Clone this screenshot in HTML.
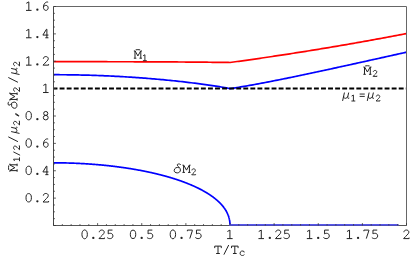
<!DOCTYPE html>
<html><head><meta charset="utf-8"><style>
html,body{margin:0;padding:0;background:#fff;font-family:"Liberation Sans",sans-serif;}
svg{display:block}
text{font-family:"Liberation Mono",monospace;font-size:14.2px;fill:#000;fill-opacity:0;stroke:none;}
</style></head><body>
<svg width="415" height="257" viewBox="0 0 415 257">
<rect width="415" height="257" fill="#fff"/>
<path d="M53.50,61.70 L55.27,61.70 L57.03,61.70 L58.80,61.70 L60.56,61.70 L62.33,61.70 L64.09,61.70 L65.86,61.70 L67.62,61.70 L69.39,61.70 L71.15,61.70 L72.91,61.70 L74.68,61.70 L76.44,61.70 L78.21,61.70 L79.97,61.70 L81.74,61.70 L83.50,61.71 L85.27,61.71 L87.03,61.71 L88.80,61.71 L90.56,61.71 L92.33,61.71 L94.09,61.71 L95.86,61.71 L97.62,61.71 L99.39,61.72 L101.16,61.72 L102.92,61.72 L104.69,61.72 L106.45,61.72 L108.22,61.73 L109.98,61.73 L111.75,61.73 L113.51,61.73 L115.28,61.74 L117.04,61.74 L118.80,61.74 L120.57,61.75 L122.34,61.75 L124.10,61.75 L125.86,61.76 L127.63,61.76 L129.39,61.76 L131.16,61.77 L132.93,61.77 L134.69,61.78 L136.45,61.78 L138.22,61.79 L139.99,61.80 L141.75,61.80 L143.51,61.81 L145.28,61.81 L147.05,61.82 L148.81,61.83 L150.57,61.83 L152.34,61.84 L154.10,61.85 L155.87,61.86 L157.63,61.86 L159.40,61.87 L161.16,61.88 L162.93,61.89 L164.69,61.90 L166.46,61.91 L168.23,61.92 L169.99,61.93 L171.75,61.94 L173.52,61.95 L175.28,61.96 L177.05,61.97 L178.81,61.99 L180.58,62.00 L182.34,62.01 L184.11,62.02 L185.88,62.04 L187.64,62.05 L189.41,62.06 L191.17,62.08 L192.94,62.09 L194.70,62.11 L196.47,62.12 L198.23,62.14 L200.00,62.16 L201.76,62.17 L203.53,62.19 L205.29,62.21 L207.06,62.22 L208.82,62.24 L210.59,62.26 L212.35,62.28 L214.12,62.30 L215.88,62.32 L217.65,62.34 L219.41,62.36 L221.17,62.38 L222.94,62.40 L224.70,62.43 L226.47,62.45 L228.23,62.47 L230.00,62.50 L231.77,62.26 L233.53,62.02 L235.30,61.77 L237.06,61.53 L238.83,61.29 L240.59,61.04 L242.36,60.80 L244.12,60.55 L245.89,60.30 L247.65,60.05 L249.42,59.80 L251.18,59.55 L252.94,59.30 L254.71,59.05 L256.48,58.80 L258.24,58.54 L260.00,58.29 L261.77,58.03 L263.53,57.77 L265.30,57.51 L267.06,57.25 L268.83,56.99 L270.60,56.73 L272.36,56.47 L274.12,56.21 L275.89,55.94 L277.65,55.68 L279.42,55.41 L281.19,55.14 L282.95,54.87 L284.72,54.60 L286.48,54.33 L288.25,54.06 L290.01,53.79 L291.77,53.51 L293.54,53.24 L295.31,52.96 L297.07,52.69 L298.83,52.41 L300.60,52.13 L302.37,51.85 L304.13,51.57 L305.89,51.29 L307.66,51.01 L309.42,50.72 L311.19,50.44 L312.95,50.15 L314.72,49.87 L316.49,49.58 L318.25,49.29 L320.01,49.00 L321.78,48.71 L323.55,48.42 L325.31,48.13 L327.07,47.83 L328.84,47.54 L330.61,47.24 L332.37,46.95 L334.13,46.65 L335.90,46.35 L337.67,46.05 L339.43,45.75 L341.19,45.45 L342.96,45.15 L344.72,44.84 L346.49,44.54 L348.25,44.23 L350.02,43.93 L351.78,43.62 L353.55,43.31 L355.31,43.00 L357.08,42.69 L358.84,42.38 L360.61,42.06 L362.38,41.75 L364.14,41.44 L365.91,41.12 L367.67,40.80 L369.44,40.49 L371.20,40.17 L372.97,39.85 L374.73,39.53 L376.50,39.21 L378.26,38.88 L380.03,38.56 L381.79,38.24 L383.56,37.91 L385.32,37.58 L387.08,37.26 L388.85,36.93 L390.62,36.60 L392.38,36.27 L394.14,35.94 L395.91,35.60 L397.68,35.27 L399.44,34.94 L401.20,34.60 L402.97,34.26 L404.74,33.93 L406.50,33.59" fill="none" stroke="#f00" stroke-width="1.7" stroke-linejoin="round"/>
<path d="M53.50,74.70 L55.27,74.71 L57.03,74.71 L58.80,74.72 L60.56,74.73 L62.33,74.74 L64.09,74.75 L65.86,74.77 L67.62,74.79 L69.39,74.81 L71.15,74.83 L72.91,74.86 L74.68,74.89 L76.44,74.92 L78.21,74.96 L79.97,74.99 L81.74,75.03 L83.50,75.08 L85.27,75.12 L87.03,75.17 L88.80,75.22 L90.56,75.27 L92.33,75.33 L94.09,75.38 L95.86,75.44 L97.62,75.51 L99.39,75.57 L101.16,75.64 L102.92,75.71 L104.69,75.79 L106.45,75.86 L108.22,75.94 L109.98,76.02 L111.75,76.11 L113.51,76.19 L115.28,76.28 L117.04,76.37 L118.80,76.47 L120.57,76.57 L122.34,76.67 L124.10,76.77 L125.86,76.87 L127.63,76.98 L129.39,77.09 L131.16,77.20 L132.93,77.32 L134.69,77.44 L136.45,77.56 L138.22,77.69 L139.99,77.81 L141.75,77.94 L143.51,78.07 L145.28,78.21 L147.05,78.35 L148.81,78.49 L150.57,78.63 L152.34,78.78 L154.10,78.93 L155.87,79.08 L157.63,79.23 L159.40,79.39 L161.16,79.55 L162.93,79.72 L164.69,79.88 L166.46,80.05 L168.23,80.23 L169.99,80.40 L171.75,80.58 L173.52,80.76 L175.28,80.95 L177.05,81.13 L178.81,81.32 L180.58,81.52 L182.34,81.71 L184.11,81.91 L185.88,82.12 L187.64,82.33 L189.41,82.54 L191.17,82.75 L192.94,82.97 L194.70,83.19 L196.47,83.41 L198.23,83.64 L200.00,83.87 L201.76,84.11 L203.53,84.34 L205.29,84.59 L207.06,84.84 L208.82,85.09 L210.59,85.34 L212.35,85.60 L214.12,85.87 L215.88,86.14 L217.65,86.42 L219.41,86.70 L221.17,86.99 L222.94,87.29 L224.70,87.59 L226.47,87.91 L228.23,88.25 L230.00,88.62 L231.77,88.36 L233.53,88.09 L235.30,87.81 L237.06,87.53 L238.83,87.24 L240.59,86.95 L242.36,86.66 L244.12,86.36 L245.89,86.06 L247.65,85.75 L249.42,85.44 L251.18,85.13 L252.94,84.81 L254.71,84.49 L256.48,84.17 L258.24,83.84 L260.00,83.51 L261.77,83.18 L263.53,82.85 L265.30,82.51 L267.06,82.17 L268.83,81.83 L270.60,81.48 L272.36,81.14 L274.12,80.79 L275.89,80.44 L277.65,80.09 L279.42,79.74 L281.19,79.38 L282.95,79.02 L284.72,78.67 L286.48,78.31 L288.25,77.94 L290.01,77.58 L291.77,77.22 L293.54,76.85 L295.31,76.48 L297.07,76.12 L298.83,75.75 L300.60,75.38 L302.37,75.01 L304.13,74.63 L305.89,74.26 L307.66,73.89 L309.42,73.51 L311.19,73.14 L312.95,72.76 L314.72,72.38 L316.49,72.01 L318.25,71.63 L320.01,71.25 L321.78,70.87 L323.55,70.49 L325.31,70.11 L327.07,69.72 L328.84,69.34 L330.61,68.96 L332.37,68.57 L334.13,68.19 L335.90,67.81 L337.67,67.42 L339.43,67.04 L341.19,66.65 L342.96,66.26 L344.72,65.88 L346.49,65.49 L348.25,65.10 L350.02,64.72 L351.78,64.33 L353.55,63.94 L355.31,63.55 L357.08,63.16 L358.84,62.77 L360.61,62.38 L362.38,61.99 L364.14,61.60 L365.91,61.21 L367.67,60.82 L369.44,60.43 L371.20,60.04 L372.97,59.65 L374.73,59.26 L376.50,58.87 L378.26,58.48 L380.03,58.09 L381.79,57.69 L383.56,57.30 L385.32,56.91 L387.08,56.52 L388.85,56.12 L390.62,55.73 L392.38,55.34 L394.14,54.95 L395.91,54.55 L397.68,54.16 L399.44,53.77 L401.20,53.37 L402.97,52.98 L404.74,52.59 L406.50,52.19" fill="none" stroke="#00f" stroke-width="1.7" stroke-linejoin="round"/>
<path d="M53.50,162.81 L54.09,162.81 L54.67,162.81 L55.26,162.81 L55.85,162.82 L56.43,162.82 L57.01,162.82 L57.59,162.83 L58.18,162.83 L58.76,162.84 L59.33,162.84 L59.91,162.85 L60.49,162.86 L61.07,162.86 L61.64,162.87 L62.21,162.88 L62.79,162.89 L63.36,162.90 L63.93,162.91 L64.50,162.92 L65.07,162.94 L65.64,162.95 L66.21,162.96 L66.77,162.98 L67.34,162.99 L67.90,163.01 L68.47,163.02 L69.03,163.04 L69.59,163.05 L70.15,163.07 L70.71,163.09 L71.27,163.11 L71.82,163.13 L72.38,163.15 L72.94,163.17 L73.49,163.19 L74.04,163.21 L74.60,163.23 L75.15,163.25 L75.70,163.27 L76.25,163.30 L76.80,163.32 L77.35,163.35 L77.89,163.37 L78.44,163.40 L78.98,163.42 L79.53,163.45 L80.07,163.48 L80.61,163.50 L81.15,163.53 L81.69,163.56 L82.23,163.59 L82.77,163.62 L83.30,163.65 L83.84,163.68 L84.38,163.71 L84.91,163.74 L85.44,163.77 L85.97,163.81 L86.51,163.84 L87.03,163.87 L87.56,163.91 L88.09,163.94 L88.62,163.98 L89.15,164.01 L89.67,164.05 L90.19,164.09 L90.72,164.12 L91.24,164.16 L91.76,164.20 L92.28,164.24 L92.80,164.28 L93.32,164.32 L93.84,164.36 L94.35,164.40 L94.87,164.44 L95.38,164.48 L95.89,164.52 L96.41,164.56 L96.92,164.60 L97.43,164.65 L97.94,164.69 L98.45,164.74 L98.95,164.78 L99.46,164.83 L99.97,164.87 L100.47,164.92 L100.97,164.96 L101.48,165.01 L101.98,165.06 L102.48,165.10 L102.98,165.15 L103.48,165.20 L103.97,165.25 L104.47,165.30 L104.97,165.35 L105.46,165.40 L105.96,165.45 L106.45,165.50 L106.94,165.55 L107.43,165.60 L107.92,165.66 L108.41,165.71 L108.90,165.76 L109.38,165.82 L109.87,165.87 L110.35,165.92 L110.84,165.98 L111.32,166.03 L111.80,166.09 L112.28,166.15 L112.76,166.20 L113.24,166.26 L113.72,166.32 L114.20,166.37 L114.67,166.43 L115.15,166.49 L115.62,166.55 L116.10,166.61 L116.57,166.67 L117.04,166.73 L117.51,166.79 L117.98,166.85 L118.45,166.91 L118.91,166.97 L119.38,167.04 L119.85,167.10 L120.31,167.16 L120.77,167.22 L121.24,167.29 L121.70,167.35 L122.16,167.42 L122.62,167.48 L123.08,167.55 L123.53,167.61 L123.99,167.68 L124.45,167.74 L124.90,167.81 L125.35,167.88 L125.81,167.94 L126.26,168.01 L126.71,168.08 L127.16,168.15 L127.61,168.22 L128.05,168.29 L128.50,168.36 L128.95,168.43 L129.39,168.50 L129.83,168.57 L130.28,168.64 L130.72,168.71 L131.16,168.78 L131.60,168.85 L132.04,168.92 L132.48,169.00 L132.91,169.07 L133.35,169.14 L133.78,169.22 L134.22,169.29 L134.65,169.37 L135.08,169.44 L135.51,169.52 L135.94,169.59 L136.37,169.67 L136.80,169.74 L137.23,169.82 L137.65,169.90 L138.08,169.97 L138.50,170.05 L138.93,170.13 L139.35,170.21 L139.77,170.28 L140.19,170.36 L140.61,170.44 L141.03,170.52 L141.44,170.60 L141.86,170.68 L142.28,170.76 L142.69,170.84 L143.10,170.92 L143.51,171.01 L143.93,171.09 L144.34,171.17 L144.75,171.25 L145.15,171.33 L145.56,171.42 L145.97,171.50 L146.37,171.58 L146.78,171.67 L147.18,171.75 L147.58,171.84 L147.99,171.92 L148.39,172.01 L148.79,172.09 L149.18,172.18 L149.58,172.26 L149.98,172.35 L150.37,172.44 L150.77,172.52 L151.16,172.61 L151.56,172.70 L151.95,172.79 L152.34,172.87 L152.73,172.96 L153.12,173.05 L153.50,173.14 L153.89,173.23 L154.28,173.32 L154.66,173.41 L155.05,173.50 L155.43,173.59 L155.81,173.68 L156.19,173.77 L156.57,173.86 L156.95,173.95 L157.33,174.05 L157.71,174.14 L158.08,174.23 L158.46,174.32 L158.83,174.42 L159.20,174.51 L159.58,174.60 L159.95,174.70 L160.32,174.79 L160.69,174.89 L161.05,174.98 L161.42,175.08 L161.79,175.17 L162.15,175.27 L162.52,175.36 L162.88,175.46 L163.24,175.56 L163.60,175.65 L163.96,175.75 L164.32,175.85 L164.68,175.94 L165.04,176.04 L165.40,176.14 L165.75,176.24 L166.11,176.34 L166.46,176.43 L166.81,176.53 L167.16,176.63 L167.51,176.73 L167.86,176.83 L168.21,176.93 L168.56,177.03 L168.91,177.13 L169.25,177.23 L169.60,177.34 L169.94,177.44 L170.28,177.54 L170.63,177.64 L170.97,177.74 L171.31,177.85 L171.64,177.95 L171.98,178.05 L172.32,178.15 L172.66,178.26 L172.99,178.36 L173.32,178.47 L173.66,178.57 L173.99,178.67 L174.32,178.78 L174.65,178.88 L174.98,178.99 L175.31,179.09 L175.63,179.20 L175.96,179.31 L176.28,179.41 L176.61,179.52 L176.93,179.62 L177.25,179.73 L177.58,179.84 L177.90,179.95 L178.21,180.05 L178.53,180.16 L178.85,180.27 L179.17,180.38 L179.48,180.49 L179.80,180.59 L180.11,180.70 L180.42,180.81 L180.73,180.92 L181.04,181.03 L181.35,181.14 L181.66,181.25 L181.97,181.36 L182.27,181.47 L182.58,181.58 L182.88,181.70 L183.19,181.81 L183.49,181.92 L183.79,182.03 L184.09,182.14 L184.39,182.25 L184.69,182.37 L184.99,182.48 L185.28,182.59 L185.58,182.70 L185.88,182.82 L186.17,182.93 L186.46,183.05 L186.75,183.16 L187.04,183.27 L187.33,183.39 L187.62,183.50 L187.91,183.62 L188.20,183.73 L188.48,183.85 L188.77,183.96 L189.05,184.08 L189.33,184.19 L189.62,184.31 L189.90,184.43 L190.18,184.54 L190.46,184.66 L190.73,184.78 L191.01,184.89 L191.29,185.01 L191.56,185.13 L191.84,185.25 L192.11,185.37 L192.38,185.48 L192.65,185.60 L192.92,185.72 L193.19,185.84 L193.46,185.96 L193.73,186.08 L193.99,186.20 L194.26,186.32 L194.52,186.44 L194.79,186.56 L195.05,186.68 L195.31,186.80 L195.57,186.92 L195.83,187.04 L196.09,187.16 L196.35,187.28 L196.60,187.40 L196.86,187.52 L197.11,187.65 L197.37,187.77 L197.62,187.89 L197.87,188.01 L198.12,188.14 L198.37,188.26 L198.62,188.38 L198.87,188.50 L199.11,188.63 L199.36,188.75 L199.60,188.88 L199.85,189.00 L200.09,189.12 L200.33,189.25 L200.57,189.37 L200.81,189.50 L201.05,189.62 L201.29,189.75 L201.52,189.87 L201.76,190.00 L201.99,190.12 L202.23,190.25 L202.46,190.38 L202.69,190.50 L202.92,190.63 L203.15,190.76 L203.38,190.88 L203.61,191.01 L203.84,191.14 L204.06,191.26 L204.29,191.39 L204.51,191.52 L204.74,191.65 L204.96,191.78 L205.18,191.90 L205.40,192.03 L205.62,192.16 L205.84,192.29 L206.05,192.42 L206.27,192.55 L206.49,192.68 L206.70,192.81 L206.91,192.94 L207.13,193.07 L207.34,193.20 L207.55,193.33 L207.76,193.46 L207.96,193.59 L208.17,193.72 L208.38,193.85 L208.58,193.98 L208.79,194.11 L208.99,194.24 L209.19,194.37 L209.40,194.51 L209.60,194.64 L209.80,194.77 L209.99,194.90 L210.19,195.04 L210.39,195.17 L210.58,195.30 L210.78,195.43 L210.97,195.57 L211.17,195.70 L211.36,195.83 L211.55,195.97 L211.74,196.10 L211.93,196.24 L212.11,196.37 L212.30,196.50 L212.49,196.64 L212.67,196.77 L212.86,196.91 L213.04,197.04 L213.22,197.18 L213.40,197.31 L213.58,197.45 L213.76,197.58 L213.94,197.72 L214.11,197.86 L214.29,197.99 L214.47,198.13 L214.64,198.27 L214.81,198.40 L214.99,198.54 L215.16,198.68 L215.33,198.81 L215.50,198.95 L215.66,199.09 L215.83,199.23 L216.00,199.36 L216.16,199.50 L216.33,199.64 L216.49,199.78 L216.65,199.92 L216.81,200.05 L216.97,200.19 L217.13,200.33 L217.29,200.47 L217.45,200.61 L217.61,200.75 L217.76,200.89 L217.92,201.03 L218.07,201.17 L218.22,201.31 L218.37,201.45 L218.52,201.59 L218.67,201.73 L218.82,201.87 L218.97,202.01 L219.12,202.15 L219.26,202.29 L219.41,202.44 L219.55,202.58 L219.69,202.72 L219.83,202.86 L219.97,203.00 L220.11,203.14 L220.25,203.29 L220.39,203.43 L220.53,203.57 L220.66,203.71 L220.80,203.86 L220.93,204.00 L221.06,204.14 L221.20,204.29 L221.33,204.43 L221.46,204.57 L221.59,204.72 L221.71,204.86 L221.84,205.01 L221.97,205.15 L222.09,205.30 L222.22,205.44 L222.34,205.58 L222.46,205.73 L222.58,205.87 L222.70,206.02 L222.82,206.17 L222.94,206.31 L223.06,206.46 L223.17,206.60 L223.29,206.75 L223.40,206.90 L223.52,207.04 L223.63,207.19 L223.74,207.33 L223.85,207.48 L223.96,207.63 L224.07,207.78 L224.18,207.92 L224.28,208.07 L224.39,208.22 L224.49,208.37 L224.59,208.51 L224.70,208.66 L224.80,208.81 L224.90,208.96 L225.00,209.11 L225.10,209.26 L225.19,209.41 L225.29,209.56 L225.39,209.70 L225.48,209.85 L225.58,210.00 L225.67,210.15 L225.76,210.30 L225.85,210.45 L225.94,210.60 L226.03,210.75 L226.12,210.91 L226.20,211.06 L226.29,211.21 L226.37,211.36 L226.46,211.51 L226.54,211.66 L226.62,211.81 L226.70,211.97 L226.78,212.12 L226.86,212.27 L226.94,212.42 L227.02,212.58 L227.09,212.73 L227.17,212.88 L227.24,213.03 L227.32,213.19 L227.39,213.34 L227.46,213.50 L227.53,213.65 L227.60,213.80 L227.67,213.96 L227.73,214.11 L227.80,214.27 L227.86,214.42 L227.93,214.58 L227.99,214.73 L228.05,214.89 L228.12,215.04 L228.18,215.20 L228.23,215.36 L228.29,215.51 L228.35,215.67 L228.41,215.83 L228.46,215.98 L228.52,216.14 L228.57,216.30 L228.62,216.46 L228.67,216.62 L228.72,216.77 L228.77,216.93 L228.82,217.09 L228.87,217.25 L228.92,217.41 L228.96,217.57 L229.01,217.73 L229.05,217.89 L229.09,218.05 L229.14,218.21 L229.18,218.37 L229.22,218.53 L229.25,218.70 L229.29,218.86 L229.33,219.02 L229.36,219.18 L229.40,219.35 L229.43,219.51 L229.47,219.67 L229.50,219.84 L229.53,220.00 L229.56,220.17 L229.59,220.33 L229.62,220.50 L229.64,220.66 L229.67,220.83 L229.69,221.00 L229.72,221.17 L229.74,221.33 L229.76,221.50 L229.78,221.67 L229.80,221.84 L229.82,222.01 L229.84,222.18 L229.86,222.35 L229.87,222.53 L229.89,222.70 L229.90,222.87 L229.92,223.05 L229.93,223.22 L229.94,223.40 L229.95,223.58 L229.96,223.76 L229.97,223.94 L229.98,224.12 L229.98,224.31 L229.99,224.49 L229.99,224.68 L230.00,224.87 L230.00,225.07 L230.00,225.27 L230.00,225.50 L230.00,225.50" fill="none" stroke="#00f" stroke-width="1.7" stroke-linejoin="round"/>
<path d="M53.5,88.62 H406.5" stroke="#000" stroke-width="2" stroke-dasharray="4.9 2.165" stroke-dashoffset="0.95" fill="none"/>
<path d="M53.5,6.5 H406.5 V225.5" fill="none" stroke="#666" stroke-width="1"/>
<path d="M53.5,6.5 V225.5" fill="none" stroke="#484848" stroke-width="1"/><path d="M53.5,225.5 H406.5" fill="none" stroke="#555" stroke-width="1"/>
<path d="M229.00,225.0 H398.56" stroke="#5656ea" stroke-width="2" fill="none"/>
<path d="M231.00,225.5 H398.56" stroke="#333" stroke-opacity="0.25" stroke-width="1" fill="none"/>
<path d="M53.50,225.50 v-2.40 M62.33,225.50 v-1.40 M71.15,225.50 v-1.40 M79.98,225.50 v-1.40 M88.80,225.50 v-1.40 M97.62,225.50 v-2.40 M106.45,225.50 v-1.40 M115.28,225.50 v-1.40 M124.10,225.50 v-1.40 M132.93,225.50 v-1.40 M141.75,225.50 v-2.40 M150.57,225.50 v-1.40 M159.40,225.50 v-1.40 M168.23,225.50 v-1.40 M177.05,225.50 v-1.40 M185.88,225.50 v-2.40 M194.70,225.50 v-1.40 M203.53,225.50 v-1.40 M212.35,225.50 v-1.40 M221.18,225.50 v-1.40 M230.00,225.50 v-2.40 M238.83,225.50 v-1.40 M247.65,225.50 v-1.40 M256.48,225.50 v-1.40 M265.30,225.50 v-1.40 M274.12,225.50 v-2.40 M282.95,225.50 v-1.40 M291.77,225.50 v-1.40 M300.60,225.50 v-1.40 M309.43,225.50 v-1.40 M318.25,225.50 v-2.40 M327.07,225.50 v-1.40 M335.90,225.50 v-1.40 M344.73,225.50 v-1.40 M353.55,225.50 v-1.40 M362.38,225.50 v-2.40 M371.20,225.50 v-1.40 M380.03,225.50 v-1.40 M388.85,225.50 v-1.40 M397.68,225.50 v-1.40 M406.50,225.50 v-2.40 M53.50,225.50 h2.40 M53.50,218.66 h1.40 M53.50,211.81 h1.40 M53.50,204.97 h1.40 M53.50,198.12 h2.40 M53.50,191.28 h1.40 M53.50,184.44 h1.40 M53.50,177.59 h1.40 M53.50,170.75 h2.40 M53.50,163.91 h1.40 M53.50,157.06 h1.40 M53.50,150.22 h1.40 M53.50,143.38 h2.40 M53.50,136.53 h1.40 M53.50,129.69 h1.40 M53.50,122.84 h1.40 M53.50,116.00 h2.40 M53.50,109.16 h1.40 M53.50,102.31 h1.40 M53.50,95.47 h1.40 M53.50,88.62 h2.40 M53.50,81.78 h1.40 M53.50,74.94 h1.40 M53.50,68.09 h1.40 M53.50,61.25 h2.40 M53.50,54.41 h1.40 M53.50,47.56 h1.40 M53.50,40.72 h1.40 M53.50,33.88 h2.40 M53.50,27.03 h1.40 M53.50,20.19 h1.40 M53.50,13.34 h1.40 M53.50,6.50 h2.40" fill="none" stroke="#333" stroke-width="0.8"/>
<path d="M 81.95,234.34 A 2.70,4.19 0 1 1 87.34,234.34 A 2.70,4.19 0 1 1 81.95,234.34 Z M 99.27,232.21 C 99.27,229.37 104.24,229.23 104.24,232.21 C 104.24,233.91 101.40,235.76 98.99,238.60 L 104.52,238.60 L 104.52,237.61 M 112.48,230.08 L 108.22,230.08 L 108.22,233.91 C 109.64,232.78 112.90,233.06 112.90,235.90 C 112.90,239.03 108.78,239.31 107.08,237.46" fill="none" stroke="#222" stroke-width="1.00" stroke-linecap="butt" stroke-linejoin="miter"/><circle cx="93.31" cy="237.89" r="1.16" fill="#222"/><path d="M 130.33,234.34 A 2.70,4.19 0 1 1 135.73,234.34 A 2.70,4.19 0 1 1 130.33,234.34 Z M 152.34,230.08 L 148.08,230.08 L 148.08,233.91 C 149.50,232.78 152.77,233.06 152.77,235.90 C 152.77,239.03 148.65,239.31 146.95,237.46" fill="none" stroke="#222" stroke-width="1.00" stroke-linecap="butt" stroke-linejoin="miter"/><circle cx="141.69" cy="237.89" r="1.16" fill="#222"/><path d="M 170.20,234.34 A 2.70,4.19 0 1 1 175.59,234.34 A 2.70,4.19 0 1 1 170.20,234.34 Z M 187.38,231.22 L 187.38,230.08 L 192.35,230.08 L 192.35,230.65 L 189.79,238.60 M 200.73,230.08 L 196.47,230.08 L 196.47,233.91 C 197.89,232.78 201.15,233.06 201.15,235.90 C 201.15,239.03 197.04,239.31 195.33,237.46" fill="none" stroke="#222" stroke-width="1.00" stroke-linecap="butt" stroke-linejoin="miter"/><circle cx="181.56" cy="237.89" r="1.16" fill="#222"/><path d="M 227.39,231.50 L 229.94,230.08 L 229.94,238.60 M 227.10,238.60 L 232.64,238.60" fill="none" stroke="#222" stroke-width="1.00" stroke-linecap="butt" stroke-linejoin="miter"/><path d="M 258.73,231.50 L 261.29,230.08 L 261.29,238.60 M 258.45,238.60 L 263.99,238.60 M 275.77,232.21 C 275.77,229.37 280.74,229.23 280.74,232.21 C 280.74,233.91 277.90,235.76 275.49,238.60 L 281.03,238.60 L 281.03,237.61 M 288.98,230.08 L 284.72,230.08 L 284.72,233.91 C 286.14,232.78 289.40,233.06 289.40,235.90 C 289.40,239.03 285.28,239.31 283.58,237.46" fill="none" stroke="#222" stroke-width="1.00" stroke-linecap="butt" stroke-linejoin="miter"/><circle cx="269.81" cy="237.89" r="1.16" fill="#222"/><path d="M 307.12,231.50 L 309.67,230.08 L 309.67,238.60 M 306.83,238.60 L 312.37,238.60 M 328.84,230.08 L 324.58,230.08 L 324.58,233.91 C 326.00,232.78 329.27,233.06 329.27,235.90 C 329.27,239.03 325.15,239.31 323.45,237.46" fill="none" stroke="#222" stroke-width="1.00" stroke-linecap="butt" stroke-linejoin="miter"/><circle cx="318.19" cy="237.89" r="1.16" fill="#222"/><path d="M 346.98,231.50 L 349.54,230.08 L 349.54,238.60 M 346.70,238.60 L 352.24,238.60 M 363.88,231.22 L 363.88,230.08 L 368.85,230.08 L 368.85,230.65 L 366.29,238.60 M 377.23,230.08 L 372.97,230.08 L 372.97,233.91 C 374.39,232.78 377.65,233.06 377.65,235.90 C 377.65,239.03 373.53,239.31 371.83,237.46" fill="none" stroke="#222" stroke-width="1.00" stroke-linecap="butt" stroke-linejoin="miter"/><circle cx="358.06" cy="237.89" r="1.16" fill="#222"/><path d="M 403.89,232.21 C 403.89,229.37 408.86,229.23 408.86,232.21 C 408.86,233.91 406.02,235.76 403.60,238.60 L 409.14,238.60 L 409.14,237.61" fill="none" stroke="#222" stroke-width="1.00" stroke-linecap="butt" stroke-linejoin="miter"/>
<path d="M 26.00,197.77 A 2.70,4.19 0 1 1 31.40,197.77 A 2.70,4.19 0 1 1 26.00,197.77 Z M 43.33,195.64 C 43.33,192.80 48.30,192.65 48.30,195.64 C 48.30,197.34 45.46,199.19 43.04,202.03 L 48.58,202.03 L 48.58,201.03" fill="none" stroke="#222" stroke-width="1.00" stroke-linecap="butt" stroke-linejoin="miter"/><circle cx="37.36" cy="201.31" r="1.16" fill="#222"/><path d="M 26.00,170.39 A 2.70,4.19 0 1 1 31.40,170.39 A 2.70,4.19 0 1 1 26.00,170.39 Z M 46.88,174.65 L 46.88,166.13 L 46.45,166.13 L 42.90,171.95 L 48.44,171.95 M 45.31,174.65 L 48.44,174.65" fill="none" stroke="#222" stroke-width="1.00" stroke-linecap="butt" stroke-linejoin="miter"/><circle cx="37.36" cy="173.94" r="1.16" fill="#222"/><path d="M 26.00,143.02 A 2.70,4.19 0 1 1 31.40,143.02 A 2.70,4.19 0 1 1 26.00,143.02 Z M 48.15,139.04 C 45.74,138.19 43.47,140.74 43.47,144.15 C 43.47,148.27 48.15,148.13 48.15,144.72 C 48.15,141.59 44.18,141.45 43.47,144.15" fill="none" stroke="#222" stroke-width="1.00" stroke-linecap="butt" stroke-linejoin="miter"/><circle cx="37.36" cy="146.56" r="1.16" fill="#222"/><path d="M 26.00,115.64 A 2.70,4.19 0 1 1 31.40,115.64 A 2.70,4.19 0 1 1 26.00,115.64 Z M 43.68,113.44 A 2.06,1.99 0 1 1 47.80,113.44 A 2.06,1.99 0 1 1 43.68,113.44 Z M 43.33,117.63 A 2.41,2.27 0 1 1 48.15,117.63 A 2.41,2.27 0 1 1 43.33,117.63 Z" fill="none" stroke="#222" stroke-width="1.00" stroke-linecap="butt" stroke-linejoin="miter"/><circle cx="37.36" cy="119.19" r="1.16" fill="#222"/><path d="M 43.33,85.43 L 45.88,84.01 L 45.88,92.53 M 43.04,92.53 L 48.58,92.53" fill="none" stroke="#222" stroke-width="1.00" stroke-linecap="butt" stroke-linejoin="miter"/><path d="M 26.29,58.05 L 28.84,56.63 L 28.84,65.15 M 26.00,65.15 L 31.54,65.15 M 43.33,58.76 C 43.33,55.92 48.30,55.78 48.30,58.76 C 48.30,60.46 45.46,62.31 43.04,65.15 L 48.58,65.15 L 48.58,64.16" fill="none" stroke="#222" stroke-width="1.00" stroke-linecap="butt" stroke-linejoin="miter"/><circle cx="37.36" cy="64.44" r="1.16" fill="#222"/><path d="M 26.29,30.68 L 28.84,29.26 L 28.84,37.78 M 26.00,37.78 L 31.54,37.78 M 46.88,37.78 L 46.88,29.26 L 46.45,29.26 L 42.90,35.08 L 48.44,35.08 M 45.31,37.78 L 48.44,37.78" fill="none" stroke="#222" stroke-width="1.00" stroke-linecap="butt" stroke-linejoin="miter"/><circle cx="37.36" cy="37.07" r="1.16" fill="#222"/><path d="M 26.29,3.30 L 28.84,1.88 L 28.84,10.40 M 26.00,10.40 L 31.54,10.40 M 48.15,2.16 C 45.74,1.31 43.47,3.87 43.47,7.28 C 43.47,11.39 48.15,11.25 48.15,7.84 C 48.15,4.72 44.18,4.58 43.47,7.28" fill="none" stroke="#222" stroke-width="1.00" stroke-linecap="butt" stroke-linejoin="miter"/><circle cx="37.36" cy="9.69" r="1.16" fill="#222"/>
<path d="M 214.73,248.10 L 214.73,246.12 L 221.27,246.12 L 221.27,248.10 M 218.00,246.12 L 218.00,253.50 M 216.15,253.50 L 219.85,253.50" fill="none" stroke="#222" stroke-width="1.00" stroke-linecap="butt" stroke-linejoin="miter"/><path d="M 223.89,254.65 L 228.71,245.00" fill="none" stroke="#222" stroke-width="1.00" stroke-linecap="butt" stroke-linejoin="miter"/><path d="M 231.53,248.10 L 231.53,246.12 L 238.07,246.12 L 238.07,248.10 M 234.80,246.12 L 234.80,253.50 M 232.95,253.50 L 236.65,253.50" fill="none" stroke="#222" stroke-width="1.00" stroke-linecap="butt" stroke-linejoin="miter"/><path d="M 244.21,252.43 L 244.10,251.58 C 242.94,250.52 240.07,250.73 240.07,253.27 C 240.07,255.92 243.36,256.03 244.42,254.55" fill="none" stroke="#222" stroke-width="0.95" stroke-linecap="butt" stroke-linejoin="miter"/><path d="M 133.85,58.20 L 136.34,58.20 M 139.46,58.20 L 141.95,58.20 M 134.99,58.20 L 134.99,50.96 M 140.81,58.20 L 140.81,50.96 M 133.85,50.96 L 135.13,50.96 L 137.90,55.93 L 140.67,50.96 L 141.95,50.96 M 135.63,49.89 C 136.76,49.54 139.04,49.54 140.17,49.89" fill="none" stroke="#222" stroke-width="1.00" stroke-linecap="butt" stroke-linejoin="miter"/><path d="M 143.12,55.75 L 144.90,54.76 L 144.90,60.70 M 142.92,60.70 L 146.78,60.70" fill="none" stroke="#222" stroke-width="0.95" stroke-linecap="butt" stroke-linejoin="miter"/><path d="M 363.35,74.30 L 365.84,74.30 M 368.96,74.30 L 371.45,74.30 M 364.49,74.30 L 364.49,67.06 M 370.31,74.30 L 370.31,67.06 M 363.35,67.06 L 364.63,67.06 L 367.40,72.03 L 370.17,67.06 L 371.45,67.06 M 365.13,65.99 C 366.26,65.64 368.54,65.64 369.67,65.99" fill="none" stroke="#222" stroke-width="1.00" stroke-linecap="butt" stroke-linejoin="miter"/><path d="M 373.32,71.95 C 373.32,69.97 376.78,69.87 376.78,71.95 C 376.78,73.13 374.80,74.42 373.12,76.40 L 376.98,76.40 L 376.98,75.71" fill="none" stroke="#222" stroke-width="0.95" stroke-linecap="butt" stroke-linejoin="miter"/><path d="M 180.72,164.62 C 179.45,163.63 177.46,163.77 177.17,164.91 C 177.03,166.04 180.44,167.46 180.44,170.02 C 180.44,173.71 174.19,173.85 174.19,170.44 C 174.19,168.03 177.03,166.75 178.88,167.75" fill="none" stroke="#222" stroke-width="1.00" stroke-linecap="butt" stroke-linejoin="miter"/><path d="M 182.45,172.40 L 184.94,172.40 M 188.06,172.40 L 190.55,172.40 M 183.59,172.40 L 183.59,165.16 M 189.41,172.40 L 189.41,165.16 M 182.45,165.16 L 183.73,165.16 L 186.50,170.13 L 189.27,165.16 L 190.55,165.16" fill="none" stroke="#222" stroke-width="1.00" stroke-linecap="butt" stroke-linejoin="miter"/><path d="M 191.92,170.34 C 191.92,168.37 195.38,168.27 195.38,170.34 C 195.38,171.53 193.40,172.82 191.72,174.80 L 195.58,174.80 L 195.58,174.11" fill="none" stroke="#222" stroke-width="0.95" stroke-linecap="butt" stroke-linejoin="miter"/><path d="M 342.59,100.91 L 344.44,92.54 M 343.66,96.23 C 343.44,99.07 346.57,99.07 347.85,96.23 M 348.70,92.54 L 347.85,96.23 C 347.42,98.22 347.99,98.78 349.27,98.07" fill="none" stroke="#222" stroke-width="1.00" stroke-linecap="butt" stroke-linejoin="miter"/><path d="M 351.62,96.05 L 353.40,95.06 L 353.40,101.00 M 351.42,101.00 L 355.28,101.00" fill="none" stroke="#222" stroke-width="0.95" stroke-linecap="butt" stroke-linejoin="miter"/><path d="M 359.63,96.42 L 364.77,96.42 M 359.63,94.05 L 364.77,94.05" fill="none" stroke="#222" stroke-width="0.95" stroke-linecap="butt" stroke-linejoin="miter"/><path d="M 367.29,100.91 L 369.14,92.54 M 368.36,96.23 C 368.14,99.07 371.27,99.07 372.55,96.23 M 373.40,92.54 L 372.55,96.23 C 372.12,98.22 372.69,98.78 373.97,98.07" fill="none" stroke="#222" stroke-width="1.00" stroke-linecap="butt" stroke-linejoin="miter"/><path d="M 376.32,96.55 C 376.32,94.56 379.78,94.47 379.78,96.55 C 379.78,97.73 377.80,99.02 376.12,101.00 L 379.98,101.00 L 379.98,100.31" fill="none" stroke="#222" stroke-width="0.95" stroke-linecap="butt" stroke-linejoin="miter"/>
<g transform="translate(17.1,172) rotate(-90)">
<path d="M 0.25,0.00 L 2.74,0.00 M 5.86,0.00 L 8.35,0.00 M 1.39,0.00 L 1.39,-7.24 M 7.21,0.00 L 7.21,-7.24 M 0.25,-7.24 L 1.53,-7.24 L 4.30,-2.27 L 7.07,-7.24 L 8.35,-7.24 M 2.03,-8.31 C 3.16,-8.66 5.44,-8.66 6.57,-8.31" fill="none" stroke="#222" stroke-width="1.00" stroke-linecap="butt" stroke-linejoin="miter"/><path d="M 11.02,-2.55 L 12.80,-3.54 L 12.80,2.40 M 10.82,2.40 L 14.68,2.40" fill="none" stroke="#222" stroke-width="0.95" stroke-linecap="butt" stroke-linejoin="miter"/><path d="M 16.77,2.99 L 20.13,-3.74" fill="none" stroke="#222" stroke-width="0.95" stroke-linecap="butt" stroke-linejoin="miter"/><path d="M 22.52,-2.06 C 22.52,-4.04 25.98,-4.13 25.98,-2.06 C 25.98,-0.87 24.00,0.42 22.32,2.40 L 26.18,2.40 L 26.18,1.71" fill="none" stroke="#222" stroke-width="0.95" stroke-linecap="butt" stroke-linejoin="miter"/><path d="M 30.34,0.85 L 35.16,-8.80" fill="none" stroke="#222" stroke-width="1.00" stroke-linecap="butt" stroke-linejoin="miter"/><path d="M 38.59,2.41 L 40.44,-5.96 M 39.66,-2.27 C 39.44,0.57 42.57,0.57 43.85,-2.27 M 44.70,-5.96 L 43.85,-2.27 C 43.42,-0.28 43.99,0.28 45.27,-0.43" fill="none" stroke="#222" stroke-width="1.00" stroke-linecap="butt" stroke-linejoin="miter"/><path d="M 47.22,-2.06 C 47.22,-4.04 50.68,-4.13 50.68,-2.06 C 50.68,-0.87 48.70,0.42 47.02,2.40 L 50.88,2.40 L 50.88,1.71" fill="none" stroke="#222" stroke-width="0.95" stroke-linecap="butt" stroke-linejoin="miter"/><path d="M 57.57,-1.42 L 55.86,1.70 L 56.43,1.70 L 58.42,-1.42 Z" fill="none" stroke="#222" stroke-width="1.00" stroke-linecap="butt" stroke-linejoin="miter"/><path d="M 70.22,-8.38 C 68.95,-9.37 66.96,-9.23 66.67,-8.09 C 66.53,-6.96 69.94,-5.54 69.94,-2.98 C 69.94,0.71 63.69,0.85 63.69,-2.56 C 63.69,-4.97 66.53,-6.25 68.38,-5.25" fill="none" stroke="#222" stroke-width="1.00" stroke-linecap="butt" stroke-linejoin="miter"/><path d="M 71.40,0.00 L 73.89,0.00 M 77.01,0.00 L 79.50,0.00 M 72.54,0.00 L 72.54,-7.24 M 78.36,0.00 L 78.36,-7.24 M 71.40,-7.24 L 72.68,-7.24 L 75.45,-2.27 L 78.22,-7.24 L 79.50,-7.24" fill="none" stroke="#222" stroke-width="1.00" stroke-linecap="butt" stroke-linejoin="miter"/><path d="M 80.67,-2.06 C 80.67,-4.04 84.13,-4.13 84.13,-2.06 C 84.13,-0.87 82.15,0.42 80.47,2.40 L 84.33,2.40 L 84.33,1.71" fill="none" stroke="#222" stroke-width="0.95" stroke-linecap="butt" stroke-linejoin="miter"/><path d="M 89.69,0.85 L 94.51,-8.80" fill="none" stroke="#222" stroke-width="1.00" stroke-linecap="butt" stroke-linejoin="miter"/><path d="M 97.49,2.41 L 99.34,-5.96 M 98.56,-2.27 C 98.34,0.57 101.47,0.57 102.75,-2.27 M 103.60,-5.96 L 102.75,-2.27 C 102.32,-0.28 102.89,0.28 104.17,-0.43" fill="none" stroke="#222" stroke-width="1.00" stroke-linecap="butt" stroke-linejoin="miter"/><path d="M 106.27,-2.06 C 106.27,-4.04 109.73,-4.13 109.73,-2.06 C 109.73,-0.87 107.75,0.42 106.07,2.40 L 109.93,2.40 L 109.93,1.71" fill="none" stroke="#222" stroke-width="0.95" stroke-linecap="butt" stroke-linejoin="miter"/>
</g>
<g aria-hidden="false"><text x="97.6" y="238.6" text-anchor="middle">0.25</text><text x="141.8" y="238.6" text-anchor="middle">0.5</text><text x="185.9" y="238.6" text-anchor="middle">0.75</text><text x="230.0" y="238.6" text-anchor="middle">1</text><text x="274.1" y="238.6" text-anchor="middle">1.25</text><text x="318.2" y="238.6" text-anchor="middle">1.5</text><text x="362.4" y="238.6" text-anchor="middle">1.75</text><text x="406.5" y="238.6" text-anchor="middle">2</text><text x="50.0" y="202.0" text-anchor="end">0.2</text><text x="50.0" y="174.7" text-anchor="end">0.4</text><text x="50.0" y="147.3" text-anchor="end">0.6</text><text x="50.0" y="119.9" text-anchor="end">0.8</text><text x="50.0" y="92.5" text-anchor="end">1</text><text x="50.0" y="65.2" text-anchor="end">1.2</text><text x="50.0" y="37.8" text-anchor="end">1.4</text><text x="50.0" y="10.4" text-anchor="end">1.6</text><text x="229.5" y="253.5" text-anchor="middle">T/T<tspan font-size="9.9" dy="2">c</tspan></text><text x="141.0" y="58.2" text-anchor="middle">M̃<tspan font-size="9.9" dy="2">1</tspan></text><text x="371.0" y="74.3" text-anchor="middle">M̃<tspan font-size="9.9" dy="2">2</tspan></text><text x="185.0" y="172.4" text-anchor="middle">δM<tspan font-size="9.9" dy="2">2</tspan></text><text x="362.0" y="98.5" text-anchor="middle">μ<tspan font-size="9.9" dy="2">1</tspan><tspan dy="-2">=μ</tspan><tspan font-size="9.9" dy="2">2</tspan></text><text x="17.1" y="115.0" text-anchor="middle" transform="rotate(-90 17.1 115)">M̃<tspan font-size="9.9" dy="2">1/2</tspan><tspan dy="-2">/μ</tspan><tspan font-size="9.9" dy="2">2</tspan><tspan dy="-2">, δM</tspan><tspan font-size="9.9" dy="2">2</tspan><tspan dy="-2">/μ</tspan><tspan font-size="9.9" dy="2">2</tspan></text></g>
</svg>
</body></html>
